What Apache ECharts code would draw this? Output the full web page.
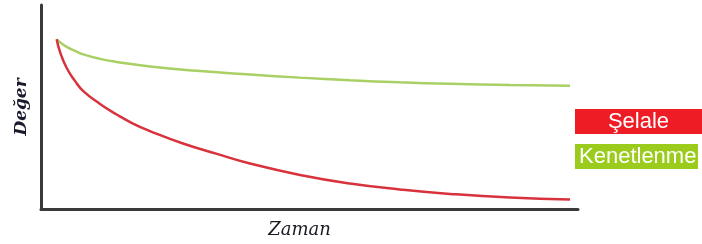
<!DOCTYPE html>
<html>
<head>
<meta charset="utf-8">
<script src="https://cdn.jsdelivr.net/npm/echarts@6/dist/echarts.min.js"></script>
<style>
    html, body { margin: 0; padding: 0; background: #fff; }
    #chart { width: 702px; height: 244px; }
</style>
</head>
<body>
<div id="chart"></div>
<script>
// time (0-100) vs value (0-100)
const selaleX = [2.92, 3.54, 4.79, 6.33, 7.88, 10.99, 14.10, 17.13, 20.30, 26.44, 32.77, 38.92, 48.23, 57.54, 66.85, 76.16, 87.34, 98.51];
const selaleY = [83.2, 77.0, 69.1, 62.8, 57.8, 51.5, 46.3, 41.9, 38.2, 32.1, 27.0, 22.3, 16.7, 12.5, 9.6, 7.4, 5.6, 4.7];

const kenetX = [2.92, 3.54, 4.79, 6.33, 7.88, 10.99, 14.10, 20.30, 29.61, 38.92, 48.23, 57.54, 66.85, 76.16, 87.34, 98.51];
const kenetY = [83.2, 81.7, 79.5, 77.5, 75.8, 73.6, 72.1, 69.9, 67.6, 65.9, 64.4, 63.1, 62.1, 61.4, 60.8, 60.4];

const seriesNames = ["Şelale", "Kenetlenme"];
const seriesColors = ["#ee1c25", "#9bcb1c"];
const xName = "Zaman";
const yName = "Değer";

const zip = (xs, ys) => xs.map((x, i) => [x, ys[i]]);

const axisLine = {
    show: true,
    lineStyle: { color: "#3a3a3a", width: 3 },
};

// legend boxes on the right, white text on a coloured bar
const legendBoxes = [
    { top: 109, width: 127, align: "center" },
    { top: 144, width: 123, align: "left" },
];

function legendGraphic() {
    return seriesNames.map((name, i) => {
        const box = legendBoxes[i];
        return {
            type: "group",
            left: 575,
            top: box.top,
            children: [
                {
                    type: "rect",
                    shape: { x: 0, y: 0, width: box.width, height: 25 },
                    style: { fill: seriesColors[i] },
                },
                {
                    type: "text",
                    x: box.align === "center" ? box.width / 2 : 4,
                    y: 13,
                    style: {
                        text: name,
                        fill: "#fff",
                        font: '22px "Liberation Sans"',
                        align: box.align,
                        verticalAlign: "middle",
                    },
                },
            ],
        };
    });
}

const chart = echarts.init(document.getElementById("chart"), null, { renderer: "canvas" });

chart.setOption({
    animation: false,
    grid: {
        left: 41,
        right: 124,
        top: 5,
        bottom: 35,
        containLabel: false,
        outerBoundsMode: "none",
    },
    graphic: legendGraphic(),
    xAxis: {
        type: "value",
        min: 0,
        max: 100,
        name: xName,
        nameLocation: "middle",
        nameGap: 12,
        nameTextStyle: {
            fontFamily: "DejaVu Serif",
            fontStyle: "italic",
            fontSize: 18,
            color: "#1a1a22",
            padding: [0, 20, 0, 0],
        },
        axisLine: axisLine,
        axisTick: { show: false },
        axisLabel: { show: false },
        splitLine: { show: false },
    },
    yAxis: {
        type: "value",
        min: 0,
        max: 100,
        name: yName,
        nameLocation: "middle",
        nameGap: 11,
        nameTextStyle: {
            fontFamily: "DejaVu Serif",
            fontStyle: "italic",
            fontWeight: "bold",
            fontSize: 17,
            color: "#1a1a2e",
        },
        axisLine: axisLine,
        axisTick: { show: false },
        axisLabel: { show: false },
        splitLine: { show: false },
    },
    series: [
        {
            name: seriesNames[0],
            type: "line",
            data: zip(selaleX, selaleY),
            smooth: 0.5,
            showSymbol: false,
            lineStyle: { color: "#d8323c", width: 2.5 },
            z: 3,
        },
        {
            name: seriesNames[1],
            type: "line",
            data: zip(kenetX, kenetY),
            smooth: 0.5,
            showSymbol: false,
            lineStyle: { color: "#a8d064", width: 2.5 },
            z: 2,
        },
    ],
});
</script>
</body>
</html>
